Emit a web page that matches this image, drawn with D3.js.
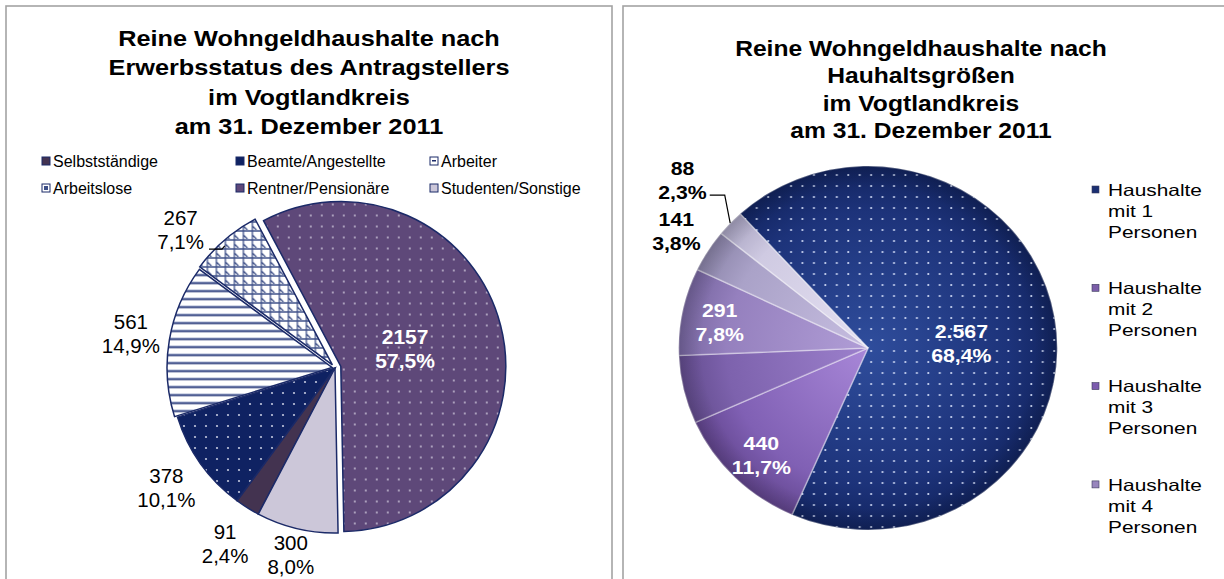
<!DOCTYPE html>
<html lang="de">
<head>
<meta charset="UTF-8" />
<script src="https://d3js.org/d3.v7.min.js"></script>
<style>
  body { margin: 0; background: #fff; }
  svg text { font-family: Arial, "Liberation Sans", sans-serif; }
</style>
<title>Reine Wohngeldhaushalte im Vogtlandkreis 2011</title>
</head>
<body>
<script>
// ---- data: left chart (Erwerbsstatus)
var statusNames = ["Selbstständige", "Beamte/Angestellte", "Arbeiter", "Arbeitslose", "Rentner/Pensionäre", "Studenten/Sonstige"];
var statusValues = [91, 378, 561, 267, 2157, 300];
var leftTitle = ["Reine Wohngeldhaushalte nach", "Erwerbsstatus des Antragstellers", "im Vogtlandkreis", "am 31. Dezember 2011"];

// ---- data: right chart (Haushaltsgrößen)
var sizeNames = ["Haushalte mit 1 Personen", "Haushalte mit 2 Personen", "Haushalte mit 3 Personen", "Haushalte mit 4 Personen", "Haushalte mit 5 Personen", "Haushalte mit 6 und mehr Personen"];
var sizeValues = [2567, 440, 227, 291, 141, 88];
var sizeHiddenLabels = ["Haushalte mit 3 Personen"];
var rightTitle = ["Reine Wohngeldhaushalte nach", "Hauhaltsgrößen", "im Vogtlandkreis", "am 31. Dezember 2011"];

var W = 1224, H = 579, deg = Math.PI / 180;
var navy = "#1b2a68";

var svg = d3.select("body").append("svg")
    .attr("width", W)
    .attr("height", H);
var defs = svg.append("defs");

// panel frames
svg.append("rect").attr("x", 6).attr("y", 6).attr("width", 606).attr("height", H + 20)
   .attr("fill", "none").attr("stroke", "#a3a3a3").attr("stroke-width", 1.6);
svg.append("rect").attr("x", 623).attr("y", 6).attr("width", W).attr("height", H + 20)
   .attr("fill", "none").attr("stroke", "#a3a3a3").attr("stroke-width", 1.6);

// text with horizontal stretch (the original picture is a bit widened)
function stext(g, x, y, str, size, weight, sx, fill, anchor) {
	return g.append("text")
		.attr("transform", "translate(" + x + "," + y + ") scale(" + sx + ",1)")
		.attr("text-anchor", anchor || "middle")
		.attr("dy", "0.35em")
		.style("font-size", size + "px")
		.style("font-weight", weight)
		.attr("fill", fill)
		.text(str);
}

function pct(v, tot) {
	return d3.format(".1f")(v / tot * 100).replace(".", ",") + "%";
}
var deLocale = d3.formatLocale({decimal: ",", thousands: ".", grouping: [3], currency: ["", " €"]});

// ---------- patterns ----------
function dotPattern(id, bg, dot, r) {
	var p = defs.append("pattern").attr("id", id).attr("patternUnits", "userSpaceOnUse")
		.attr("width", 11).attr("height", 11);
	if (bg) p.append("rect").attr("width", 11).attr("height", 11).attr("fill", bg);
	p.append("circle").attr("cx", 3).attr("cy", 3).attr("r", r).attr("fill", dot);
}
dotPattern("dotsBeamte", "#0f2262", "#c3c8de", 1.1);
dotPattern("dotsRentner", "#5e4879", "#cfc9dc", 0.9);
dotPattern("dotsRight", null, "#cfd9f5", 1.05);

var stripes = defs.append("pattern").attr("id", "stripes").attr("patternUnits", "userSpaceOnUse")
	.attr("width", 8).attr("height", 8);
stripes.append("rect").attr("width", 8).attr("height", 8).attr("fill", "#fff");
stripes.append("rect").attr("y", 2).attr("width", 8).attr("height", 1).attr("fill", "#a9b2d0");
stripes.append("rect").attr("y", 3).attr("width", 8).attr("height", 1.6).attr("fill", "#27397a");

var lattice = defs.append("pattern").attr("id", "lattice").attr("patternUnits", "userSpaceOnUse")
	.attr("width", 9).attr("height", 9);
lattice.append("rect").attr("width", 9).attr("height", 9).attr("fill", "#fff");
lattice.append("path").attr("d", "M0 1H9M1 0V9M1 5L5 9").attr("stroke", "#3d4f88").attr("stroke-width", 1.3).attr("fill", "none");

var fillsL = ["#433350", "url(#dotsBeamte)", "url(#stripes)", "url(#lattice)", "url(#dotsRentner)", "#ccc7d9"];
var legendFillL = ["#433350", "#0f2262", "#fff", "#fff", "#5e4879", "#ccc7d9"];
var explodeL = [0, 0, 3, 4, 6, 0];

// ---------- left chart ----------
var gL = svg.append("g");
leftTitle.forEach(function(t, i) {
	stext(gL, 309, 38 + i * 29.5, t, 22, "bold", 1.15, "#000");
});

// legend, 3 columns x 2 rows
var legL = gL.append("g");
statusNames.forEach(function(n, i) {
	var col = i % 3, row = Math.floor(i / 3);
	var x = 42 + col * 194, y = 161 + row * 27;
	legL.append("rect").attr("x", x).attr("y", y - 4).attr("width", 8).attr("height", 8)
		.attr("fill", legendFillL[i]).attr("stroke", navy).attr("stroke-width", 1);
	if (i === 2) legL.append("rect").attr("x", x + 2).attr("y", y - 1).attr("width", 4).attr("height", 1.5).attr("fill", navy);
	if (i === 3) legL.append("rect").attr("x", x + 2).attr("y", y - 2).attr("width", 4).attr("height", 4).attr("fill", "#3d4f88");
	stext(legL, x + 11, y, n, 16, "normal", 1, "#000", "start");
});

var lc = {x: 335, y: 368}, lr = 165;
var totalL = d3.sum(statusValues);
var pieL = d3.pie().sort(null).startAngle(207.7 * deg).endAngle(567.7 * deg);
var arcsL = pieL(statusValues);
var arcL = d3.arc().innerRadius(0).outerRadius(lr);

arcsL.forEach(function(a, i) {
	var mid = (a.startAngle + a.endAngle) / 2, e = explodeL[i];
	gL.append("path")
		.attr("transform", "translate(" + (lc.x + Math.sin(mid) * e) + "," + (lc.y - Math.cos(mid) * e) + ")")
		.attr("d", arcL(a))
		.attr("fill", fillsL[i])
		.attr("stroke", navy)
		.attr("stroke-width", 1.5);
});

// labels (kept between legend and bottom of the frame)
var plotTopL = 207, plotBottomL = 580;
arcsL.forEach(function(a, i) {
	var mid = (a.startAngle + a.endAngle) / 2, e = explodeL[i];
	var lines = [d3.format("d")(a.value), pct(a.value, totalL)];
	if (a.value / totalL > 0.5) {
		var d = lr * 0.44 + e;
		var x = lc.x + Math.sin(mid) * d, y = lc.y - Math.cos(mid) * d;
		stext(gL, x - 6, y - 12, lines[0], 21, "bold", 1, "#fff");
		stext(gL, x - 6, y + 12, lines[1], 21, "bold", 1, "#fff");
		return;
	}
	var ang = mid, dist = lr + 42;
	var px = function() { return lc.x + Math.sin(ang) * dist; };
	var py = function() { return lc.y - Math.cos(ang) * dist; };
	while (py() - 23 < plotTopL) ang -= 0.5 * deg;
	while (py() + 25 > plotBottomL) dist -= 1;
	var x = px(), y = py();
	stext(gL, x, y - 12, lines[0], 20.5, "normal", 1, "#000");
	var t2 = stext(gL, x, y + 12, lines[1], 20.5, "normal", 1, "#000");
	if (ang !== mid) {
		var w = t2.node().getComputedTextLength();
		var sx0 = x + w / 2 + 5, sy0 = y + 19;
		var ex = lc.x + Math.sin(mid) * (lr + e), ey = lc.y - Math.cos(mid) * (lr + e);
		gL.append("path")
			.attr("d", d3.line()([[sx0, sy0], [sx0 + 13, sy0], [ex, ey + 6]]))
			.attr("fill", "none").attr("stroke", "#000").attr("stroke-width", 1.2);
	}
});

// ---------- right chart ----------
var gR = svg.append("g");
rightTitle.forEach(function(t, i) {
	stext(gR, 921, 48 + i * 27.5, t, 22, "bold", 1.12, "#000");
});

var gradStops = [
	["#2f4d9c", "#1d337a", "#122460"],
	["#a887d8", "#8060b4", "#62458e"],
	["#9c80cc", "#7d62ad", "#634c8e"],
	["#b09dd6", "#9580be", "#7766a0"],
	["#c6bde0", "#aaa2c8", "#8a83a8"],
	["#e4e0f1", "#cfcae2", "#a7a2c0"]
];
var legendFillR = ["#1b2f72", "#7b5ea8", "#7c5cae", "#9886bd"];

var rc = {x: 868, y: 348}, rr = 182, rsx = 1.04;
gradStops.forEach(function(s, i) {
	var g = defs.append("radialGradient").attr("id", "gr" + i)
		.attr("gradientUnits", "userSpaceOnUse").attr("cx", 0).attr("cy", 0).attr("r", rr);
	g.append("stop").attr("offset", "0%").attr("stop-color", s[0]);
	g.append("stop").attr("offset", "75%").attr("stop-color", s[1]);
	g.append("stop").attr("offset", "100%").attr("stop-color", s[2]);
});
var rim = defs.append("radialGradient").attr("id", "rim")
	.attr("gradientUnits", "userSpaceOnUse").attr("cx", 0).attr("cy", 0).attr("r", rr);
rim.append("stop").attr("offset", "88%").attr("stop-color", "#000").attr("stop-opacity", 0);
rim.append("stop").attr("offset", "100%").attr("stop-color", "#000").attr("stop-opacity", 0.15);

var totalR = d3.sum(sizeValues);
var pieR = d3.pie().sort(null).startAngle(-42.5 * deg).endAngle(317.5 * deg);
var arcsR = pieR(sizeValues);
var arcR = d3.arc().innerRadius(0).outerRadius(rr);

var pieG = gR.append("g").attr("transform", "translate(" + rc.x + "," + rc.y + ") scale(" + rsx + ",1)");
arcsR.forEach(function(a, i) {
	pieG.append("path").attr("d", arcR(a)).attr("fill", "url(#gr" + i + ")");
	if (i === 0) pieG.append("path").attr("d", arcR(a)).attr("fill", "url(#dotsRight)");
	pieG.append("path").attr("d", arcR(a)).attr("fill", "none")
		.attr("stroke", "#fff").attr("stroke-opacity", 0.35).attr("stroke-width", 1.6);
});
pieG.append("circle").attr("r", rr).attr("fill", "url(#rim)");

// labels
var placed = [];
function overlaps(b) {
	return placed.some(function(p) {
		return b.x0 < p.x1 + 3 && b.x1 > p.x0 - 3 && b.y0 < p.y1 + 3 && b.y1 > p.y0 - 3;
	});
}
arcsR.forEach(function(a, i) {
	if (sizeHiddenLabels.indexOf(sizeNames[i]) >= 0) return;
	var mid = (a.startAngle + a.endAngle) / 2, frac = a.value / totalR;
	var lines = [deLocale.format(",d")(a.value), pct(a.value, totalR)];
	var sx = 1.15, fs = 18.5;
	if (frac >= 0.07) {
		var big = frac > 0.5;
		var d = rr * (big ? 0.5 : 0.8);
		var x = rc.x + rsx * Math.sin(mid) * d, y = rc.y - Math.cos(mid) * d + (big ? 10 : 4);
		stext(gR, x, y - 12, lines[0], fs, "bold", sx, "#fff");
		stext(gR, x, y + 12, lines[1], fs, "bold", sx, "#fff");
		return;
	}
	var base = rr + 36, dist = base;
	var t1 = stext(gR, 0, 0, lines[0], fs, "bold", sx, "#000");
	var t2 = stext(gR, 0, 0, lines[1], fs, "bold", sx, "#000");
	var w = Math.max(t1.node().getComputedTextLength(), t2.node().getComputedTextLength()) * sx;
	var box;
	function place() {
		var x = rc.x + rsx * Math.sin(mid) * dist, y = rc.y - Math.cos(mid) * dist;
		box = {cx: x, cy: y, x0: x - w / 2, x1: x + w / 2, y0: y - 24, y1: y + 24};
	}
	place();
	while (overlaps(box)) { dist += 1; place(); }
	placed.push(box);
	t1.attr("transform", "translate(" + box.cx + "," + (box.cy - 12) + ") scale(" + sx + ",1)");
	t2.attr("transform", "translate(" + box.cx + "," + (box.cy + 12) + ") scale(" + sx + ",1)");
	if (dist > base + 2) {
		var sx0 = box.x1 + 3, sy0 = box.cy + 15;
		var ex = rc.x + rsx * Math.sin(mid) * rr, ey = rc.y - Math.cos(mid) * rr;
		gR.append("path")
			.attr("d", d3.line()([[sx0, sy0], [sx0 + 15, sy0], [ex, ey]]))
			.attr("fill", "none").attr("stroke", "#000").attr("stroke-width", 1.2);
	}
});

// legend (only the first four entries fit in the frame)
var legR = gR.append("g");
sizeNames.slice(0, 4).forEach(function(n, i) {
	var y = 190 + i * 98.3;
	var m = n.match(/^(\S+) (mit \S+) (.+)$/);
	legR.append("rect").attr("x", 1092).attr("y", y - 4).attr("width", 7).attr("height", 7)
		.attr("fill", legendFillR[i]).attr("stroke", "#3a3a5a").attr("stroke-width", 0.6);
	[m[1], m[2], m[3]].forEach(function(l, j) {
		stext(legR, 1108, y + j * 21, l, 16.3, "normal", 1.28, "#000", "start");
	});
});
</script>
</body>
</html>
